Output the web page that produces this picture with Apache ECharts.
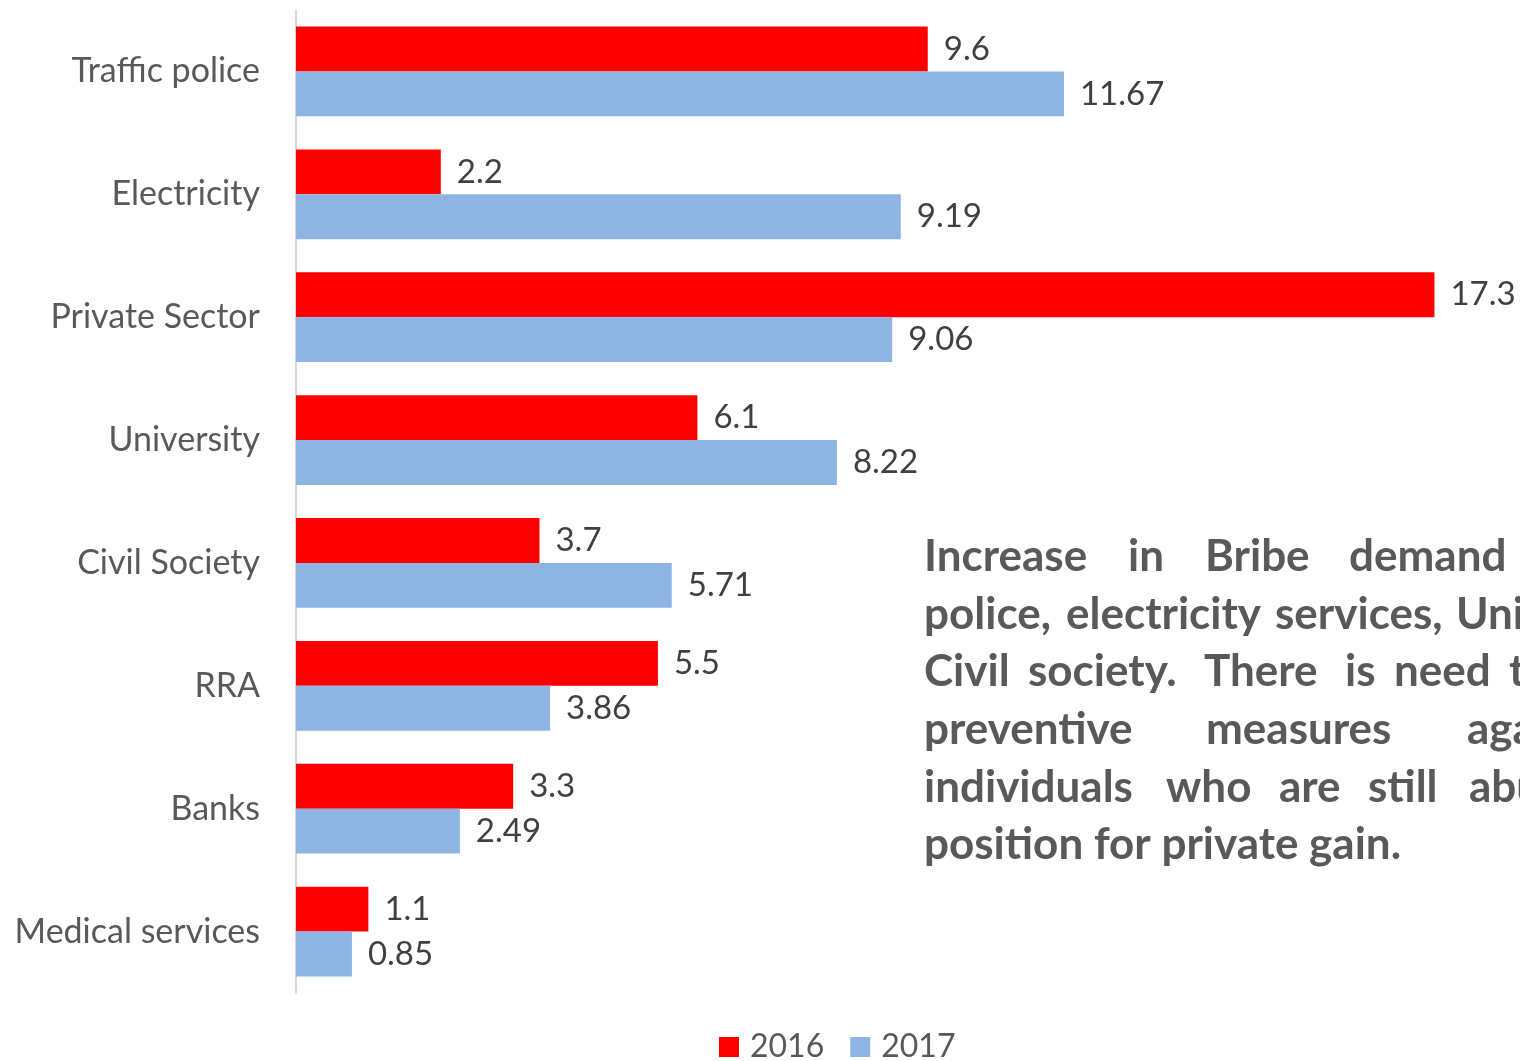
<!DOCTYPE html>
<html>
<head>
<meta charset="utf-8">
<script src="https://cdn.jsdelivr.net/npm/echarts@6/dist/echarts.min.js"></script>
<style>
  html, body { margin: 0; padding: 0; background: #fff; }
  #chart { width: 1520px; height: 1061px; }
</style>
</head>
<body>
<div id="chart"></div>
<script>
// data, top to bottom as in the picture
const categories = ["Traffic police", "Electricity", "Private Sector", "University",
  "Civil Society", "RRA", "Banks", "Medical services"];
const values2016 = [9.6, 2.2, 17.3, 6.1, 3.7, 5.5, 3.3, 1.1];
const values2017 = [11.67, 9.19, 9.06, 8.22, 5.71, 3.86, 2.49, 0.85];
const seriesNames = ["2016", "2017"];

// note on the right, one entry per line, words placed to look justified
const noteLines = [
  [["Increase", 924], ["in", 1128], ["Bribe", 1205], ["demand", 1349], ["in", 1560]],
  [["police,", 924], ["electricity", 1066], ["services,", 1275], ["University", 1456]],
  [["Civil", 924], ["society.", 1028], ["There", 1204], ["is", 1345], ["need", 1394], ["to", 1509]],
  [["preventive", 924], ["measures", 1206], ["against", 1467]],
  [["individuals", 924], ["who", 1166], ["are", 1279], ["still", 1368], ["abusing", 1469]],
  [["position for private gain.", 924]]
];

const FONT = "Lato";
const chart = echarts.init(document.getElementById("chart"));

const noteGraphics = [];
noteLines.forEach((line, i) => {
  line.forEach(([word, x]) => {
    noteGraphics.push({
      type: "text",
      x: x,
      y: 557 + i * 57.6,
      style: {
        text: word,
        font: "bold 44px " + FONT,
        fill: "#595959",
        textVerticalAlign: "middle"
      }
    });
  });
});

const labelStyle = { show: true, position: "right", distance: 16, fontFamily: FONT, fontSize: 33, color: "#404040" };

const option = {
  animation: false,
  grid: { left: 296, right: 0, top: 10, bottom: 68 },
  legend: {
    data: seriesNames,
    left: 714,
    top: 1026,
    itemWidth: 20,
    itemHeight: 20,
    itemGap: 26,
    icon: "rect",
    textStyle: { fontFamily: FONT, fontSize: 32, color: "#595959", padding: [0, 0, 0, 6] }
  },
  xAxis: {
    type: "value",
    min: 0,
    max: 18.6,
    show: false
  },
  yAxis: {
    type: "category",
    data: categories,
    inverse: true,
    axisLine: { lineStyle: { color: "#d9d9d9", width: 2 } },
    axisTick: { show: false },
    axisLabel: { fontFamily: FONT, fontSize: 34, color: "#595959", margin: 36 }
  },
  series: [
    {
      name: seriesNames[0],
      type: "bar",
      data: values2016,
      barGap: "0%",
      barCategoryGap: "27%",
      itemStyle: { color: "#ff0000" },
      label: labelStyle
    },
    {
      name: seriesNames[1],
      type: "bar",
      data: values2017,
      barGap: "0%",
      barCategoryGap: "27%",
      itemStyle: { color: "#8eb4e3" },
      label: labelStyle
    }
  ],
  graphic: noteGraphics
};

chart.setOption(option);
</script>
</body>
</html>
